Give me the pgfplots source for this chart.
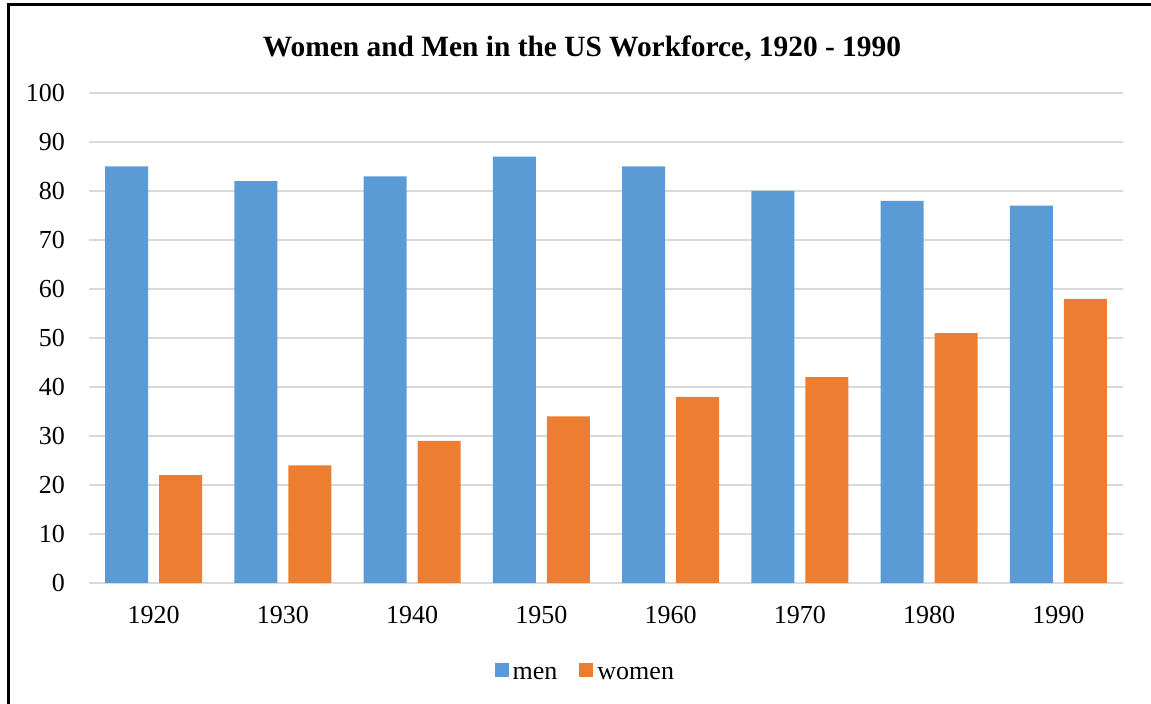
\documentclass[border=0pt]{standalone}
\usepackage{pgfplots}
\pgfplotsset{compat=1.18}
\usepackage{fontspec}
\setmainfont{Liberation Serif}
\definecolor{menblue}{RGB}{91,155,213}
\definecolor{womenorange}{RGB}{237,125,49}
\definecolor{gridgray}{RGB}{217,217,217}

\begin{document}
\begin{tikzpicture}
\useasboundingbox (0,0) rectangle (575.5pt,352pt);
% frame (top and left visible)
\draw[line width=1.5pt] (4pt,0) -- (4pt,349.5pt) -- (575.5pt,349.5pt);
\node[font=\fontsize{14.7}{16}\selectfont\bfseries] at (291pt,328pt)
  {Women and Men in the US Workforce, 1920 - 1990};
\begin{axis}[
  at={(44.5pt,60.5pt)}, anchor=south west,
  scale only axis,
  width=517pt, height=245pt,
  ybar=5.5pt, bar width=21.5pt,
  xmin=-0.5, xmax=7.5,
  ymin=0, ymax=100,
  xtick={0,...,7},
  xticklabels={1920,1930,1940,1950,1960,1970,1980,1990},
  ytick={0,10,...,100},
  axis x line*=bottom,
  axis y line*=left,
  x axis line style={gridgray,line width=0.75pt,-},
  y axis line style={draw=none},
  ymajorgrids,
  grid style={gridgray,line width=0.75pt},
  major tick length=0pt,
  tick label style={font=\fontsize{13}{15}\selectfont},
  /pgf/number format/assume math mode=true,
  yticklabel style={xshift=-8.5pt},
  xticklabel style={yshift=-8pt},
  legend style={at={(0.481,-0.188)}, anchor=center, draw=none,
    legend columns=2, font=\fontsize{13}{15}\selectfont,
    /tikz/every even column/.append style={column sep=9pt}},
  legend image code/.code={\fill[#1] (0pt,-1pt) rectangle (7pt,6pt);},
]
\addplot[fill=menblue, draw=none] coordinates {
  (0,85) (1,82) (2,83) (3,87) (4,85) (5,80) (6,78) (7,77)
};
\addplot[fill=womenorange, draw=none] coordinates {
  (0,22) (1,24) (2,29) (3,34) (4,38) (5,42) (6,51) (7,58)
};
\legend{men,women}
\end{axis}
\end{tikzpicture}
\end{document}
